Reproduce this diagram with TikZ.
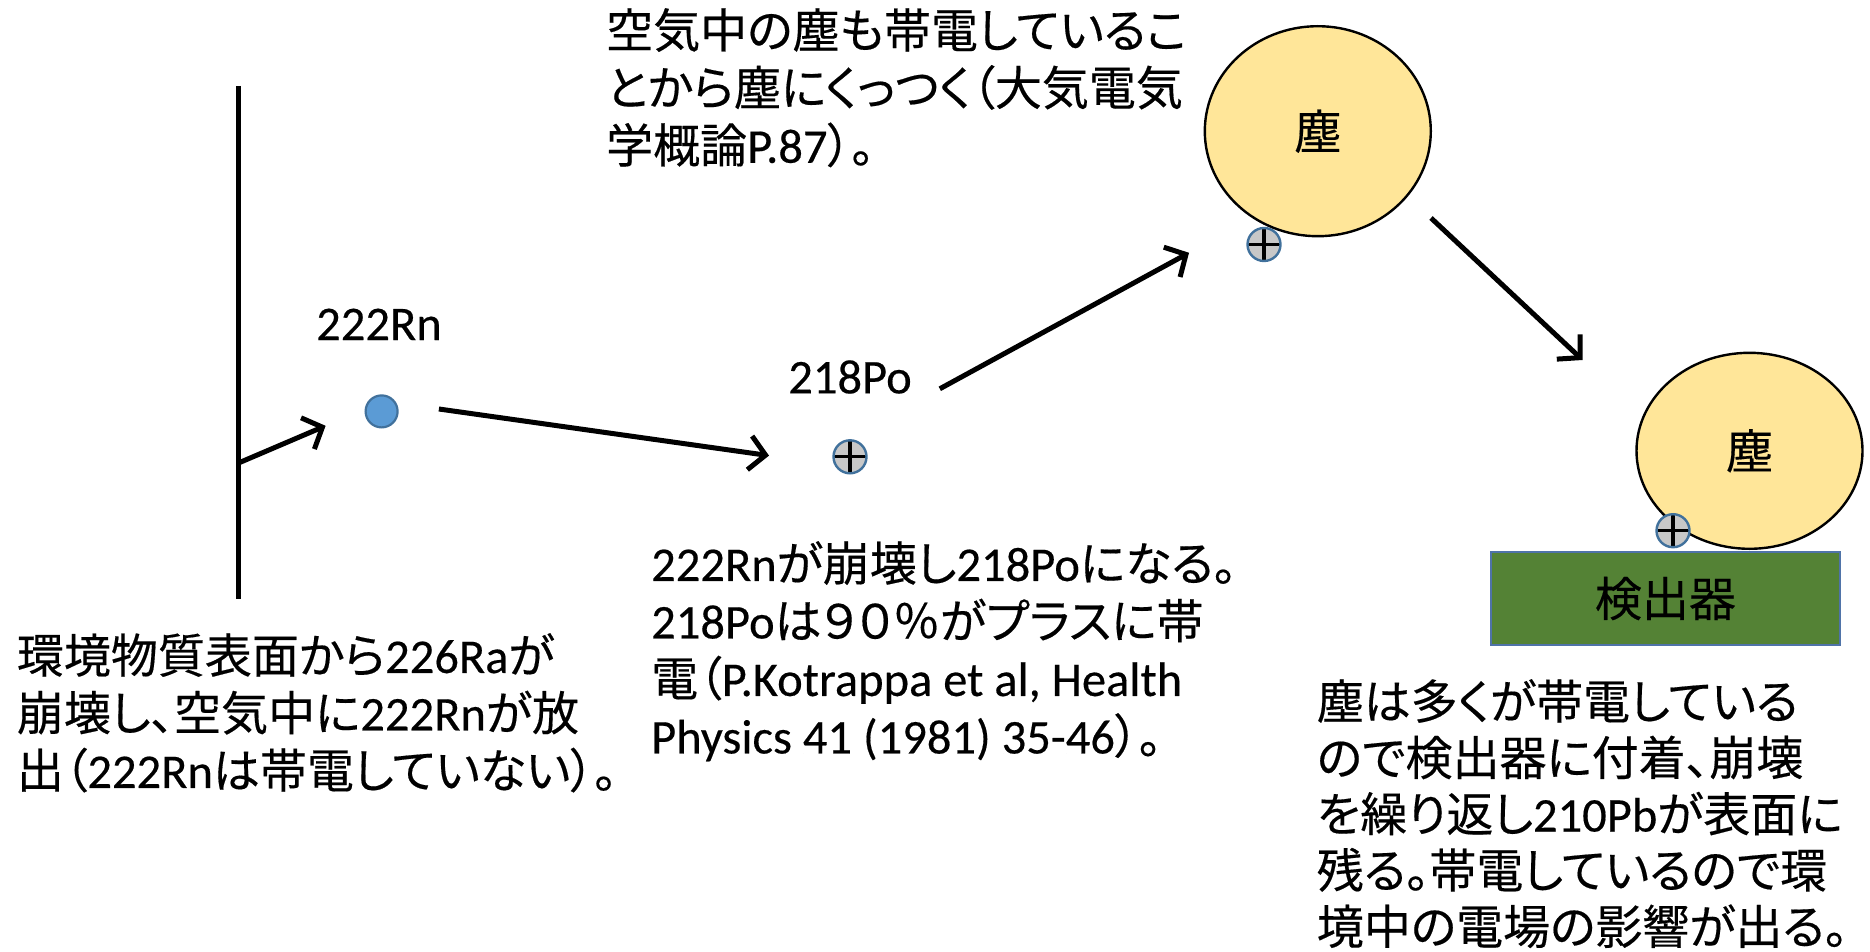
\documentclass[tikz,border=0pt]{standalone}
\usepackage{fontspec}
\setmainfont{Noto Sans CJK JP}[RawFeature=+palt, FakeBold=0.35]
\newfontfamily\latf{Carlito}[FakeBold=0.35]
\newcommand\LT[1]{{\latf\fontsize{48.5}{57.5}\selectfont #1}}
\usetikzlibrary{arrows.meta,shapes.geometric}
\definecolor{dustfill}{HTML}{FFE699}
\definecolor{detfill}{HTML}{548235}
\definecolor{detdraw}{HTML}{4F73A8}
\definecolor{rnfill}{HTML}{5B9BD5}
\definecolor{rndraw}{HTML}{41719C}
\definecolor{pfill}{HTML}{C8C8C8}
\tikzset{
  txt/.style={inner sep=0pt, align=left, anchor=north west},
  conn/.style={line width=5pt, -{Straight Barb[length=16pt,width=34pt]}},
  dust/.style={ellipse, draw=black, line width=2.4pt, fill=dustfill, inner sep=0pt},
  pluscirc/.style={circle, draw=rndraw, fill=pfill, line width=2.4pt, minimum size=33pt, inner sep=0pt,
    path picture={
      \draw[black,line width=3.2pt] ([xshift=-17pt]path picture bounding box.center) -- ([xshift=17pt]path picture bounding box.center);
      \draw[black,line width=3.2pt] ([yshift=-17pt]path picture bounding box.center) -- ([yshift=17pt]path picture bounding box.center);
    }},
  rncirc/.style={circle, draw=rndraw, fill=rnfill, line width=2.2pt, minimum size=32pt, inner sep=0pt},
  lbl/.style={inner sep=0pt}
}
\begin{document}
\begin{tikzpicture}[x=1pt,y=-1pt,font=\fontsize{47}{57.5}\selectfont]
\useasboundingbox (0,0) rectangle (1870,952);

% surface line
\coordinate (surftop) at (238.5,86);
\coordinate (surfbot) at (238.5,599);
\coordinate (surfout) at (238.5,463);
\draw[line width=5pt] (surftop) -- (surfbot);

% particles
\node[rncirc] (rn) at (381.6,411.4) {};
\node[lbl] (rnlbl) at (379,324.4) {\LT{222Rn}};
\node[pluscirc] (po) at (850,456.8) {};
\node[lbl] (polbl) at (850,377) {\LT{218Po}};

\node[dust, minimum width=226pt, minimum height=210pt] (dust1) at (1317.8,131.2) {塵};
\node[pluscirc] (p1) at (1264,244.5) {};

\node[dust, minimum width=226pt, minimum height=196pt] (dust2) at (1749.5,450.8) {塵};
\node[fill=detfill, draw=detdraw, line width=2pt, minimum width=349pt, minimum height=93pt, inner sep=0pt] (det) at (1665.4,598.5) {検出器};
\node[pluscirc] (p2) at (1673,530.7) {};

% arrows
\coordinate (a1e) at (325.6,425.8);
\coordinate (a2s) at (438.9,409);
\coordinate (a2e) at (769,455.6);
\coordinate (a3s) at (939.8,388.8);
\coordinate (a3e) at (1189,252.8);
\coordinate (a4s) at (1431,218);
\coordinate (a4e) at (1582.6,360);
\draw[conn] (surfout) -- (a1e);
\draw[conn] (a2s) -- (a2e);
\draw[conn] (a3s) -- (a3e);
\draw[conn] (a4s) -- (a4e);

% texts
\node[txt] (ttop) at (606,8) {空気中の塵も帯電しているこ\\とから塵にくっつく（大気電気\\学概論\LT{P.87}）。};
\node[txt] (tleft) at (16.7,633) {環境物質表面から\LT{226Ra}が\\崩壊し、空気中に\LT{222Rn}が放\\出（\LT{222Rn}は帯電していない）。};
\node[txt] (tmid) at (651,541) {\LT{222Rn}が崩壊し\LT{218Po}になる。\\\LT{218Po}は９０％がプラスに帯\\電（\LT{P.Kotrappa et al, Health}\\\LT{Physics 41 (1981) 35-46}）。};
\node[txt, font=\fontsize{47}{56.3}\selectfont] (tright) at (1316.6,679) {塵は多くが帯電している\\ので検出器に付着、崩壊\\を繰り返し\LT{210Pb}が表面に\\残る。帯電しているので環\\境中の電場の影響が出る。};
\end{tikzpicture}
\end{document}
